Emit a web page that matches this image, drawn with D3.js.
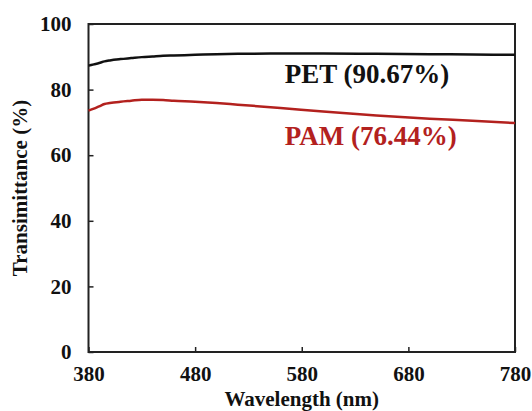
<!DOCTYPE html>
<html>
<head>
<meta charset="utf-8">
<script src="https://cdn.jsdelivr.net/npm/d3@7"></script>
<style>
  body { margin: 0; background: #fff; }
  .axis line { stroke: #222; stroke-width: 1.5; }
</style>
</head>
<body>
<div id="the_chart"></div>
<script>
// wavelength (nm) sample points
var wavelength = [380, 385, 390, 395, 400, 410, 420, 430, 440, 450, 460, 480, 500, 520, 560, 600, 650, 700, 740, 780];
// transmittance (%)
var pet = [87.3, 87.7, 88.1, 88.6, 88.9, 89.3, 89.6, 89.9, 90.1, 90.3, 90.4, 90.6, 90.8, 90.9, 91.0, 91.0, 90.9, 90.8, 90.7, 90.6];
var pam = [73.6, 74.2, 74.9, 75.6, 75.9, 76.3, 76.6, 76.9, 76.9, 76.8, 76.6, 76.3, 75.9, 75.4, 74.4, 73.3, 72.1, 71.1, 70.5, 69.8];
var xticks = [380, 480, 580, 680, 780];
var yticks = [0, 20, 40, 60, 80, 100];
var labels = [
  { text: "PET (90.67%)", color: "#111", wl: 564, val: 81.9 },
  { text: "PAM (76.44%)", color: "#b3211e", wl: 564, val: 63.1 }
];

var serif = "'Liberation Serif', 'Times New Roman', Times, serif";
var w = 532, h = 411;
var margin = { top: 24, right: 17, bottom: 59, left: 88.5 };

var svg = d3.select("#the_chart")
            .append("svg")
            .attr("width", w)
            .attr("height", h);

var xscale = d3.scaleLinear()
               .domain([380, 780])
               .range([margin.left, w - margin.right]);
var yscale = d3.scaleLinear()
               .domain([0, 100])
               .range([h - margin.bottom, margin.top]);

// axes, ticks point inward
function style_axis(g) {
  g.select(".domain").remove();
  g.attr("font-family", serif).attr("font-size", 21).attr("font-weight", "bold");
  g.selectAll("text").attr("fill", "#111");
}

var xaxis = d3.axisBottom(xscale).tickValues(xticks)
              .tickSizeInner(-5).tickSizeOuter(0).tickPadding(14);
svg.append("g").attr("class", "axis")
   .attr("transform", "translate(0," + (h - margin.bottom) + ")")
   .call(xaxis)
   .call(style_axis);

var yaxis = d3.axisLeft(yscale).tickValues(yticks)
              .tickSizeInner(-5).tickSizeOuter(0).tickPadding(17);
svg.append("g").attr("class", "axis")
   .attr("transform", "translate(" + margin.left + ",0)")
   .call(yaxis)
   .call(style_axis);

// frame
svg.append("rect")
   .attr("x", xscale(380))
   .attr("y", yscale(100))
   .attr("width", xscale(780) - xscale(380))
   .attr("height", yscale(0) - yscale(100))
   .attr("fill", "none")
   .attr("stroke", "#222")
   .attr("stroke-width", 2);

// curves
var line = d3.line()
             .x(function (d, i) { return xscale(wavelength[i]); })
             .y(function (d) { return yscale(d); })
             .curve(d3.curveMonotoneX);

svg.append("path").datum(pet)
   .attr("d", line).attr("fill", "none")
   .attr("stroke", "#111").attr("stroke-width", 2.5);
svg.append("path").datum(pam)
   .attr("d", line).attr("fill", "none")
   .attr("stroke", "#b3211e").attr("stroke-width", 2.5);

// annotations
svg.selectAll("text.note")
   .data(labels)
   .enter().append("text")
   .attr("class", "note")
   .attr("x", function (d) { return xscale(d.wl); })
   .attr("y", function (d) { return yscale(d.val); })
   .attr("fill", function (d) { return d.color; })
   .attr("font-family", serif)
   .attr("font-weight", "bold")
   .attr("font-size", "27px")
   .text(function (d) { return d.text; });

// axis titles
svg.append("text")
   .attr("x", (xscale(380) + xscale(780)) / 2)
   .attr("y", 406)
   .attr("text-anchor", "middle")
   .attr("font-family", serif)
   .attr("font-weight", "bold")
   .attr("font-size", "21px")
   .attr("fill", "#111")
   .text("Wavelength (nm)");

svg.append("text")
   .attr("transform", "translate(27," + yscale(50) + ") rotate(-90)")
   .attr("text-anchor", "middle")
   .attr("font-family", serif)
   .attr("font-weight", "bold")
   .attr("font-size", "21px")
   .attr("fill", "#111")
   .text("Transimittance (%)");
</script>
</body>
</html>
